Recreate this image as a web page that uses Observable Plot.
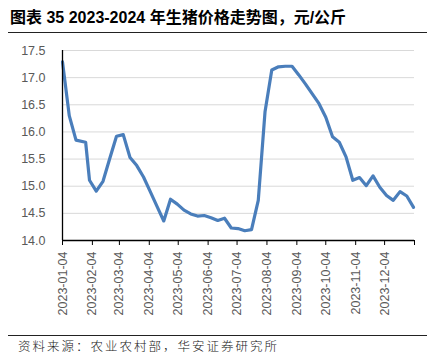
<!DOCTYPE html>
<html>
<head>
<meta charset="utf-8">
<script src="https://cdn.jsdelivr.net/npm/d3@7"></script>
<script src="https://cdn.jsdelivr.net/npm/@observablehq/plot@0.6"></script>
<style>
  html, body { margin: 0; padding: 0; background: #fff; }
  #wrap { position: relative; width: 427px; height: 364px; overflow: hidden; }
  #title { position: absolute; left: 10px; top: 8px; line-height: 20px; font-size: 16px; font-weight: bold; color: #000;
           font-family: "Liberation Sans", Arial, "Noto Sans CJK SC", sans-serif; white-space: nowrap; }
  .rule { position: absolute; left: 8px; width: 419px; height: 1.4px; background: #222; }
  #chart { position: absolute; left: 0; top: 33px; }
  #caption { position: absolute; left: 18px; top: 338px; line-height: 16px; font-size: 12.5px; letter-spacing: 2px; color: #222;
             font-family: "Noto Sans CJK SC", sans-serif; font-weight: 300; white-space: nowrap; }
</style>
</head>
<body>
<div id="wrap">
  <div id="title">图表 35 2023-2024 年生猪价格走势图，元/公斤</div>
  <div class="rule" style="top:32px"></div>
  <div id="chart"></div>
  <div class="rule" style="top:335px; height:1px"></div>
  <div id="caption">资料来源：农业农村部，华安证券研究所</div>
</div>
<script>
const dates = ["2023-01-04","2023-01-11","2023-01-18","2023-01-28","2023-02-01","2023-02-08","2023-02-15","2023-02-22",
  "2023-03-01","2023-03-08","2023-03-15","2023-03-22","2023-03-29","2023-04-05","2023-04-12","2023-04-19","2023-04-26",
  "2023-05-03","2023-05-10","2023-05-17","2023-05-24","2023-05-31","2023-06-07","2023-06-14","2023-06-21","2023-06-28",
  "2023-07-05","2023-07-12","2023-07-19","2023-07-26","2023-08-02","2023-08-09","2023-08-16","2023-08-23","2023-08-30",
  "2023-09-06","2023-09-13","2023-09-20","2023-09-27","2023-10-04","2023-10-11","2023-10-18","2023-10-25","2023-11-01",
  "2023-11-08","2023-11-15","2023-11-22","2023-11-29","2023-12-06","2023-12-13","2023-12-20","2023-12-27","2024-01-03"];
const prices = [17.29,16.30,15.85,15.81,15.11,14.91,15.09,15.51,
  15.92,15.95,15.53,15.38,15.17,14.90,14.63,14.36,14.76,
  14.67,14.56,14.49,14.45,14.46,14.42,14.37,14.41,14.23,
  14.22,14.18,14.20,14.74,16.37,17.14,17.20,17.21,17.21,
  17.05,16.88,16.70,16.52,16.27,15.91,15.81,15.54,15.11,
  15.16,15.01,15.19,14.98,14.83,14.74,14.90,14.82,14.61];
const tickLabels = ["2023-01-04","2023-02-04","2023-03-04","2023-04-04","2023-05-04","2023-06-04",
  "2023-07-04","2023-08-04","2023-09-04","2023-10-04","2023-11-04","2023-12-04"];
const axisEndLabel = "2024-01-04";
const yTicks = [14.0,14.5,15.0,15.5,16.0,16.5,17.0,17.5];

const parse = d3.utcParse("%Y-%m-%d");
const fmt = d3.utcFormat("%Y-%m-%d");
const data = dates.map((d, i) => ({date: parse(d), price: prices[i]}));
const tickDates = tickLabels.map(parse);
const axisEnd = parse(axisEndLabel);
const allTicks = tickDates.concat([axisEnd]);

const chart = Plot.plot({
  width: 427, height: 292,
  marginTop: 17, marginBottom: 85, marginLeft: 62, marginRight: 13,
  style: {fontFamily: "'Liberation Sans', Arial, sans-serif", fontSize: "12.5px", background: "transparent", overflow: "visible"},
  x: {type: "utc", domain: [tickDates[0], axisEnd]},
  y: {domain: [14, 17.5]},
  marks: [
    Plot.gridY(yTicks, {stroke: "#d9d9d9", strokeOpacity: 1, strokeWidth: 1}),
    Plot.axisY(yTicks, {tickSize: 0, tickPadding: 17, tickFormat: d3.format(".1f"), label: null, fill: "#595959"}),
    Plot.line(data, {x: "date", y: "price", stroke: "#4a7ebb", strokeWidth: 3.2, strokeLinejoin: "round", strokeLinecap: "round"}),
    Plot.ruleX([tickDates[0]], {stroke: "#000", strokeWidth: 1.3}),
    Plot.ruleY([14], {stroke: "#000", strokeWidth: 1.3}),
    Plot.axisX(allTicks, {tickSize: 5, tickPadding: 6, tickRotate: -90, label: null, stroke: "#000", fill: "#595959",
      tickFormat: d => (+d === +axisEnd ? "" : fmt(d))})
  ]
});
document.getElementById("chart").appendChild(chart);
</script>
</body>
</html>
